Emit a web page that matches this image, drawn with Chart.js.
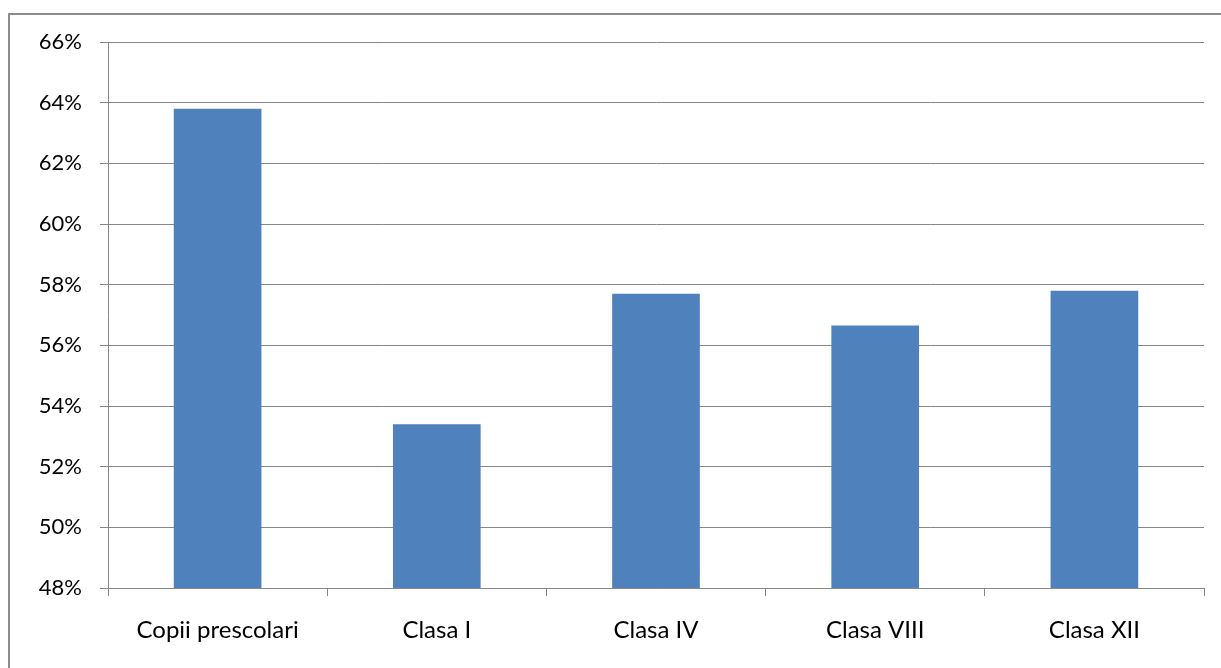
<!DOCTYPE html>
<html>
<head>
<meta charset="utf-8">
<script src="https://cdn.jsdelivr.net/npm/chart.js@4/dist/chart.umd.min.js"></script>
<style>
  html, body { margin: 0; padding: 0; background: #fff; overflow: hidden; }
  #frame { position: absolute; left: 8px; top: 13px; width: 1300px; height: 800px; border: 2px solid #8c8c8c; }
  #wrap { position: absolute; left: 0; top: 0; width: 1221px; height: 668px; }
</style>
</head>
<body>
<div id="frame"></div>
<div id="wrap"><canvas id="c" width="1221" height="668"></canvas></div>
<script>
const categories = ["Copii prescolari", "Clasa I", "Clasa IV", "Clasa VIII", "Clasa XII"]
const values = [63.8, 53.4, 57.7, 56.65, 57.8]
const yMin = 48
const yMax = 66
const yStep = 2

const gridColor = "#878787"
const yFont = { family: "Lato, 'Open Sans', sans-serif", size: 22 }
const xFont = { family: "Lato, 'Open Sans', sans-serif", size: 24 }

new Chart(document.getElementById("c"), {
    type: "bar",
    data: {
        labels: categories,
        datasets: [{
            data: values,
            backgroundColor: "#4f81bd",
            borderWidth: 0,
            barPercentage: 0.4,
            categoryPercentage: 1,
        }]
    },
    options: {
        responsive: false,
        animation: false,
        layout: { padding: { left: 0, right: 17, top: 42, bottom: 0 } },
        plugins: { legend: { display: false }, tooltip: { enabled: false } },
        scales: {
            x: {
                offset: true,
                grid: { offset: true, drawOnChartArea: false, color: gridColor, tickLength: 8, tickColor: gridColor },
                border: { display: true, color: gridColor, width: 1 },
                ticks: { color: "#000", font: xFont, padding: 20, maxRotation: 0 },
                afterFit: (s) => { s.height = 80 },
            },
            y: {
                min: yMin,
                max: yMax,
                grid: { color: gridColor, tickLength: 8, tickColor: gridColor },
                border: { display: true, color: gridColor, width: 1 },
                ticks: { stepSize: yStep, color: "#000", font: yFont, padding: 18,
                         callback: (v) => Math.round(v) + "%" },
                afterFit: (s) => { s.width = 108 },
            }
        }
    }
})
</script>
</body>
</html>
